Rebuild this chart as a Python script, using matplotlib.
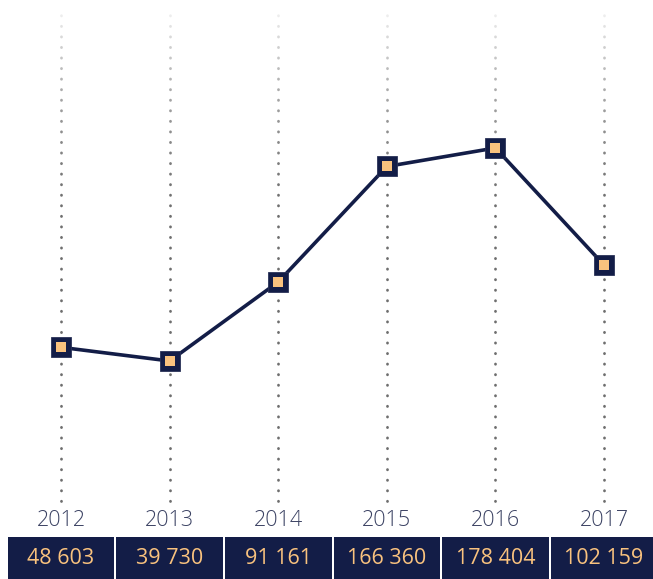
import numpy as np
import matplotlib
matplotlib.use("Agg")
import matplotlib.pyplot as plt
import matplotlib.transforms as mtransforms
from matplotlib.patches import Rectangle

years = ["2012", "2013", "2014", "2015", "2016", "2017"]
values = [48603, 39730, 91161, 166360, 178404, 102159]
labels = ["48 603", "39 730", "91 161", "166 360", "178 404", "102 159"]

navy = "#131d47"
orange = "#f9c27e"
grey = "#6e6e6e"

fig = plt.figure(figsize=(6.53, 5.79), dpi=100)
ax = fig.add_axes([0, 0, 1, 1])
ax.set_xlim(-0.562, 5.451)
ax.set_ylim(-102214, 274740)
ax.axis("off")

x = np.arange(len(years))
trans = mtransforms.blended_transform_factory(ax.transData, ax.transAxes)

# dotted guide lines
for xi in x:
    ax.plot([xi, xi], [0.134, 0.985], transform=trans, color=grey,
            lw=2.0, linestyle=(0, (0.1, 3.7)), dash_capstyle="round", zorder=1)

# white fade over top of guide lines
grad = np.linspace(0, 1, 256).reshape(-1, 1) ** 1.6
rgba = np.ones((256, 1, 4))
rgba[:, 0, 3] = grad[:, 0]
ax.imshow(rgba, extent=(-0.562, 5.451, 0.62, 1.0), transform=trans,
          aspect="auto", origin="lower", zorder=2, interpolation="bilinear")
ax.set_xlim(-0.562, 5.451)
ax.set_ylim(-102214, 274740)

# line and markers
ax.plot(x, values, color=navy, lw=2.6, zorder=3, solid_capstyle="round")
ax.plot(x, values, linestyle="none", marker="s", markersize=14.5,
        markerfacecolor=navy, markeredgecolor="#2a3358", markeredgewidth=0.6,
        zorder=4)
ax.plot(x, values, linestyle="none", marker="s", markersize=7,
        markerfacecolor=orange, markeredgecolor=orange, markeredgewidth=0,
        zorder=5)

# year labels and value boxes
font = ["Open Sans", "DejaVu Sans"]
for xi, yr, lab in zip(x, years, labels):
    ax.text(xi, 1 - 521 / 579, yr, transform=trans, ha="center", va="center",
            fontsize=15.5, color="#3b4263", family=font, fontweight="light")
    ax.add_patch(Rectangle((xi - 0.491, 0), 0.982, 1 - 537 / 579,
                           transform=trans, facecolor=navy, edgecolor="none",
                           zorder=3, clip_on=False))
    ax.text(xi, 1 - 559 / 579, lab, transform=trans, ha="center", va="center",
            fontsize=15.5, color=orange, family=font, zorder=4)

fig.savefig("out.png", dpi=100)
